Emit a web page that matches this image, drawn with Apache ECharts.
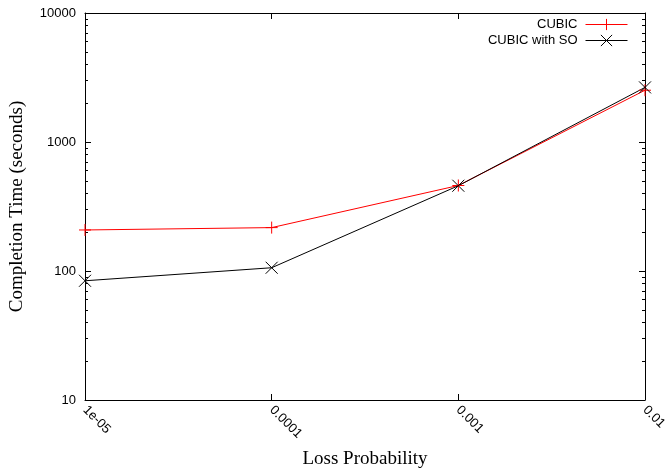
<!DOCTYPE html>
<html>
<head>
<meta charset="utf-8">
<script src="https://cdn.jsdelivr.net/npm/echarts@6/dist/echarts.min.js"></script>
<style>html,body{margin:0;padding:0;background:#fff}#c{width:666px;height:473px}</style>
</head>
<body>
<div id="c"></div>
<script>
const categories = ['1e-05', '0.0001', '0.001', '0.01'];
const cubic = [208, 217, 460, 2520];
const cubicSO = [84, 106, 458, 2650];
const yMajor = [10, 100, 1000, 10000];
const yMinor = [20,30,40,50,60,70,80,90,200,300,400,500,600,700,800,900,2000,3000,4000,5000,6000,7000,8000,9000];

const plusPath = 'path://M0,6L12,6M6,0L6,12';
const crossPath = 'path://M0,0L12,12M12,0L0,12';
const sans = 'Liberation Sans, Arial, sans-serif';
const serif = 'Liberation Serif, Times New Roman, serif';
const lineCol = '#000';

const chart = echarts.init(document.getElementById('c'), null, {renderer: 'canvas'});
const yBase = {type: 'log', logBase: 10, min: 10, max: 10000, gridIndex: 0, splitLine: {show: false}};
const legendBase = {align: 'right', orient: 'vertical', itemWidth: 42, itemHeight: 14, padding: 0,
  lineStyle: {width: 1}, itemStyle: {borderWidth: 1},
  textStyle: {fontFamily: sans, fontSize: 13, color: '#000', padding: [0, 3, 0, 0]}};
chart.setOption({
  animation: false,
  backgroundColor: '#fff',
  grid: {left: 85, right: 21, top: 13, bottom: 73, containLabel: false, outerBoundsMode: 'none'},
  legend: [
    Object.assign({data: ['CUBIC'], right: 38, top: 18}, legendBase),
    Object.assign({data: ['CUBIC with SO'], right: 38, top: 34}, legendBase)
  ],
  xAxis: [
    {type: 'category', data: categories, boundaryGap: false, position: 'bottom',
     name: 'Loss Probability', nameLocation: 'middle', nameGap: 50,
     nameTextStyle: {fontFamily: serif, fontSize: 19, color: '#000'},
     axisLine: {show: true, lineStyle: {color: lineCol, width: 1}},
     axisTick: {show: true, inside: true, length: 6, interval: 0, lineStyle: {color: lineCol, width: 1}},
     axisLabel: {show: true, rotate: -45, interval: 0, margin: 8, fontFamily: sans, fontSize: 13, color: '#000'},
     splitLine: {show: false}},
    {type: 'category', data: categories, boundaryGap: false, position: 'top',
     axisLine: {show: true, lineStyle: {color: lineCol, width: 1}},
     axisTick: {show: true, inside: true, length: 6, interval: 0, lineStyle: {color: lineCol, width: 1}},
     axisLabel: {show: false}, splitLine: {show: false}}
  ],
  yAxis: [
    Object.assign({}, yBase, {position: 'left',
     name: 'Completion Time (seconds)', nameLocation: 'middle', nameGap: 58,
     nameTextStyle: {fontFamily: serif, fontSize: 19, color: '#000'},
     axisLine: {show: true, lineStyle: {color: lineCol, width: 1}},
     axisTick: {show: true, inside: true, length: 6, customValues: yMajor, lineStyle: {color: lineCol, width: 1}},
     axisLabel: {show: true, margin: 9, fontFamily: sans, fontSize: 13, color: '#000', customValues: yMajor,
       formatter: v => String(Math.round(v))}}),
    Object.assign({}, yBase, {position: 'left',
     axisLine: {show: false},
     axisTick: {show: true, inside: true, length: 3, customValues: yMinor, lineStyle: {color: lineCol, width: 1}},
     axisLabel: {show: false}}),
    Object.assign({}, yBase, {position: 'right',
     axisLine: {show: true, lineStyle: {color: lineCol, width: 1}},
     axisTick: {show: true, inside: true, length: 6, customValues: yMajor, lineStyle: {color: lineCol, width: 1}},
     axisLabel: {show: false}}),
    Object.assign({}, yBase, {position: 'right',
     axisLine: {show: false},
     axisTick: {show: true, inside: true, length: 3, customValues: yMinor, lineStyle: {color: lineCol, width: 1}},
     axisLabel: {show: false}})
  ],
  series: [
    {name: 'CUBIC', type: 'line', data: cubic, xAxisIndex: 0, yAxisIndex: 0,
     symbol: plusPath, symbolSize: 12, clip: false, showAllSymbol: true,
     lineStyle: {color: '#ff0000', width: 1},
     itemStyle: {color: '#ff0000', borderColor: '#ff0000', borderWidth: 1}},
    {name: 'CUBIC with SO', type: 'line', data: cubicSO, xAxisIndex: 0, yAxisIndex: 0,
     symbol: crossPath, symbolSize: 12, clip: false, showAllSymbol: true,
     lineStyle: {color: '#000000', width: 1},
     itemStyle: {color: '#000000', borderColor: '#000000', borderWidth: 1}}
  ]
});
</script>
</body>
</html>
